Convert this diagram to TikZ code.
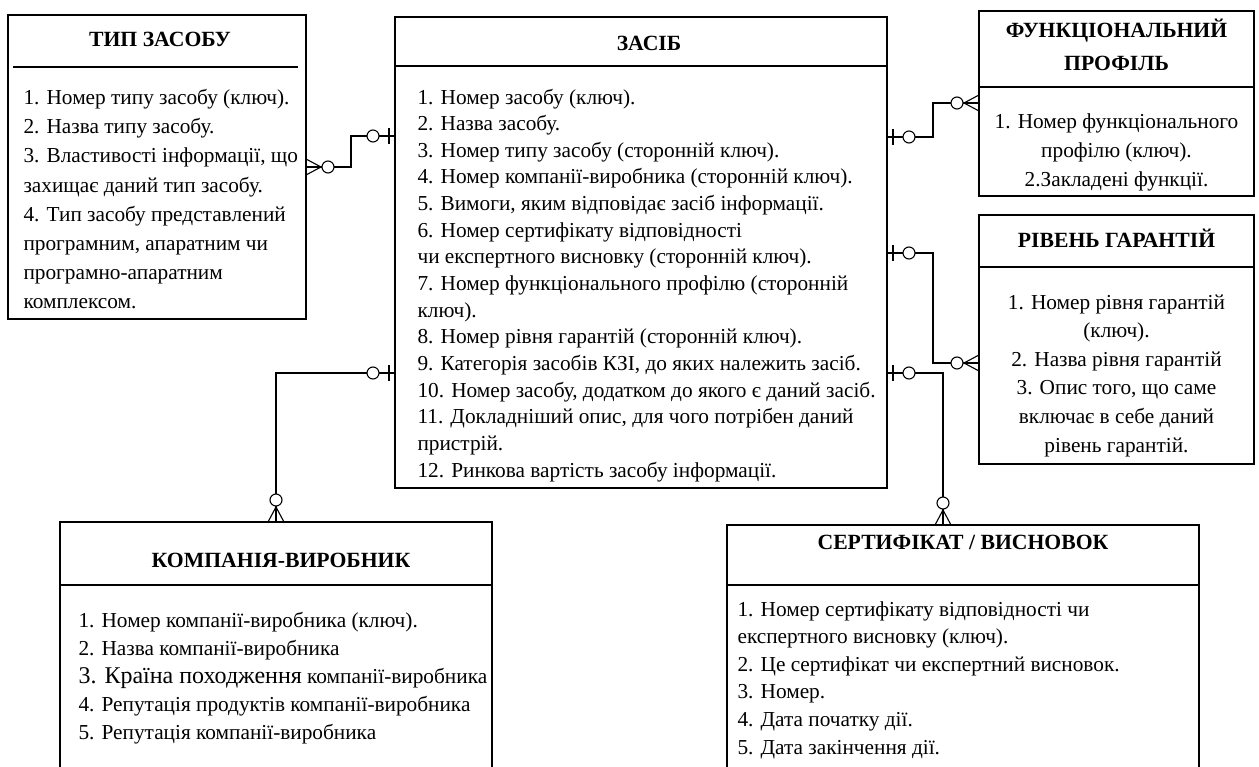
\documentclass[tikz,border=0pt]{standalone}
\usepackage{fontspec}
\setmainfont{Liberation Serif}
\begin{document}
\begin{tikzpicture}[x=1pt,y=-1pt,line width=1.1pt,
  ebox/.style={draw,rectangle,inner sep=0pt,outer sep=0pt},
  ttl/.style={font=\bfseries\fontsize{21.7}{33}\selectfont,inner sep=0pt,anchor=base,align=center},
  bodyl/.style={font=\fontsize{21.3}{#1}\selectfont,inner sep=0pt,anchor=base west,align=left},
  bodyc/.style={font=\fontsize{21.3}{#1}\selectfont,inner sep=0pt,anchor=base,align=center},
  zeroone/.pic={\draw[line width=1.1pt] (6,-8) -- (6,8); \draw[line width=1.1pt,fill=white] (22,0) circle[radius=6pt];},
  zeromany/.pic={\draw[line width=1.1pt] (0,-8) -- (15,0) -- (0,8); \draw[line width=1.1pt,fill=white] (22,0) circle[radius=6pt];}
]
\useasboundingbox (0,0) rectangle (1259,767);
% boxes
\node[ebox,minimum width=298pt,minimum height=304pt] (tip) at (157,167) {};
\node[ebox,minimum width=492pt,minimum height=471pt] (zas) at (641,252.5) {};
\node[ebox,minimum width=275pt,minimum height=185pt] (fun) at (1116.5,103.5) {};
\node[ebox,minimum width=275pt,minimum height=249pt] (riv) at (1116.5,339.5) {};
\node[ebox,minimum width=432pt,minimum height=258pt] (kom) at (276,651) {};
\node[ebox,minimum width=472pt,minimum height=255pt] (ser) at (963,652.5) {};
% separators
\draw (13,67) -- (298,67);
\draw (zas.west |- 0,66) -- (zas.east |- 0,66);
\draw (fun.west |- 0,87) -- (fun.east |- 0,87);
\draw (riv.west |- 0,267) -- (riv.east |- 0,267);
\draw (kom.west |- 0,585) -- (kom.east |- 0,585);
\draw (ser.west |- 0,585) -- (ser.east |- 0,585);
% titles
\node[ttl] (tipT) at (160,46.5) {ТИП ЗАСОБУ};
\node[ttl] (zasT) at (649,50.5) {ЗАСІБ};
\node[ttl] (funT) at (1116.5,70.5) {ФУНКЦІОНАЛЬНИЙ\\ПРОФІЛЬ};
\node[ttl] (rivT) at (1116.5,247.5) {РІВЕНЬ ГАРАНТІЙ};
\node[ttl] (komT) at (281,567.5) {КОМПАНІЯ-ВИРОБНИК};
\node[ttl] (serT) at (963,549.5) {СЕРТИФІКАТ / ВИСНОВОК};
% bodies (anchored at the baseline of their last line)
\node[bodyl=29.1] (tipB) at (23,308.5) {1. Номер типу засобу (ключ).\\2. Назва типу засобу.\\3. Властивості інформації, що\\захищає даний тип засобу.\\4. Тип засобу представлений\\програмним, апаратним чи\\програмно-апаратним\\комплексом.};
\node[bodyl=26.64] (zasB) at (417,477) {1. Номер засобу (ключ).\\2. Назва засобу.\\3. Номер типу засобу (сторонній ключ).\\4. Номер компанії-виробника (сторонній ключ).\\5. Вимоги, яким відповідає засіб інформації.\\6. Номер сертифікату відповідності\\чи експертного висновку (сторонній ключ).\\7. Номер функціонального профілю (сторонній\\ключ).\\8. Номер рівня гарантій (сторонній ключ).\\9. Категорія засобів КЗІ, до яких належить засіб.\\10. Номер засобу, додатком до якого є даний засіб.\\11. Докладніший опис, для чого потрібен даний\\пристрій.\\12. Ринкова вартість засобу інформації.};
\node[bodyc=29] (funB) at (1116.5,187) {1. Номер функціонального\\профілю (ключ).\\2.Закладені функції.};
\node[bodyc=28.6] (rivB) at (1116.5,452) {1. Номер рівня гарантій\\(ключ).\\2. Назва рівня гарантій\\3. Опис того, що саме\\включає в себе даний\\рівень гарантій.};
\node[bodyl=28] (komB) at (78,739) {1. Номер компанії-виробника (ключ).\\2. Назва компанії-виробника\\{\fontsize{24}{28}\selectfont 3. Країна походження} компанії-виробника\\4. Репутація продуктів компанії-виробника\\5. Репутація компанії-виробника};
\node[bodyl=27.6] (serB) at (737,754) {1. Номер сертифікату відповідності чи\\експертного висновку (ключ).\\2. Це сертифікат чи експертний висновок.\\3. Номер.\\4. Дата початку дії.\\5. Дата закінчення дії.};
% connector anchor points
\coordinate (a1) at (tip.east |- 0,167);
\coordinate (b1) at (zas.west |- 0,136);
\coordinate (a2) at (zas.east |- 0,137);
\coordinate (b2) at (fun.west |- 0,103);
\coordinate (a3) at (zas.east |- 0,253);
\coordinate (b3) at (riv.west |- 0,363);
\coordinate (a4) at (zas.east |- 0,373);
\coordinate (b4) at (ser.north -| 943,0);
\coordinate (a5) at (zas.west |- 0,373);
\coordinate (b5) at (kom.north);
% connectors
\draw (a1) -- (351,167) -- (351,136) -- (b1);
\draw (a2) -- (933,137) -- (933,103) -- (b2);
\draw (a3) -- (933,253) -- (933,363) -- (b3);
\draw (a4) -- (943,373) -- (b4);
\draw (a5) -- (b5 |- a5) -- (b5);
% ends
\pic at (a1) {zeromany};
\pic[rotate=180] at (b1) {zeroone};
\pic at (a2) {zeroone};
\pic[rotate=180] at (b2) {zeromany};
\pic at (a3) {zeroone};
\pic[rotate=180] at (b3) {zeromany};
\pic at (a4) {zeroone};
\pic[rotate=90] at (b4) {zeromany};
\pic[rotate=180] at (a5) {zeroone};
\pic[rotate=90] at (b5) {zeromany};
\end{tikzpicture}
\end{document}
